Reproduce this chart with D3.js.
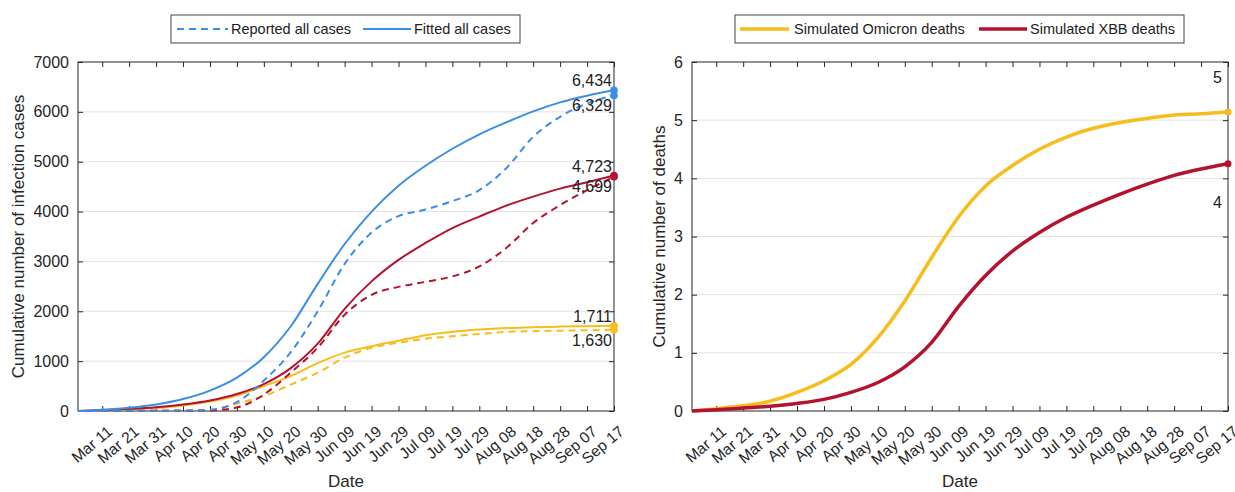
<!DOCTYPE html>
<html>
<head>
<meta charset="utf-8">
<script src="https://cdn.jsdelivr.net/npm/d3@7"></script>
<style>
  html, body { margin: 0; padding: 0; background: #fff; }
  svg { display: block; font-family: "Liberation Sans", Arial, Helvetica, sans-serif; }
</style>
</head>
<body>
<svg id="chart" width="1235" height="492"></svg>
<script>
// ---------------- DATA ----------------
const dates = ["2023-03-02","2023-03-11","2023-03-21","2023-03-31","2023-04-10","2023-04-20",
  "2023-04-30","2023-05-10","2023-05-20","2023-05-30","2023-06-09","2023-06-19","2023-06-29",
  "2023-07-09","2023-07-19","2023-07-29","2023-08-08","2023-08-18","2023-08-28","2023-09-07","2023-09-17"];

const tickDates = ["2023-03-11","2023-03-21","2023-03-31","2023-04-10","2023-04-20","2023-04-30",
  "2023-05-10","2023-05-20","2023-05-30","2023-06-09","2023-06-19","2023-06-29","2023-07-09",
  "2023-07-19","2023-07-29","2023-08-08","2023-08-18","2023-08-28","2023-09-07","2023-09-17"];

// Left panel: cumulative infection cases
const fittedAll      = [0, 25, 65, 130, 240, 410, 670, 1080, 1700, 2550, 3350, 4000, 4520, 4920, 5260, 5550, 5790, 6010, 6190, 6325, 6434];
const reportedAll    = [0, 2, 4, 6, 10, 25, 180, 610, 1180, 2000, 2950, 3580, 3910, 4040, 4210, 4430, 4870, 5500, 5900, 6170, 6329];
const fittedXBB      = [0, 15, 40, 75, 130, 210, 340, 540, 860, 1350, 2050, 2600, 3030, 3370, 3670, 3900, 4120, 4300, 4460, 4590, 4723];
const reportedXBB    = [0, 1, 2, 4, 6, 10, 70, 330, 770, 1270, 1930, 2330, 2490, 2590, 2700, 2900, 3270, 3770, 4130, 4430, 4699];
const fittedOmicron  = [0, 12, 30, 60, 110, 190, 310, 500, 700, 960, 1170, 1300, 1410, 1520, 1590, 1635, 1665, 1680, 1693, 1702, 1711];
const reportedOmicron= [0, 1, 2, 4, 8, 20, 150, 300, 530, 770, 1070, 1270, 1370, 1450, 1500, 1545, 1585, 1600, 1612, 1620, 1630];

// Right panel: cumulative deaths
const deathsOmicron  = [0, 0.04, 0.09, 0.17, 0.32, 0.52, 0.80, 1.26, 1.89, 2.64, 3.34, 3.87, 4.22, 4.50, 4.71, 4.86, 4.96, 5.03, 5.09, 5.11, 5.14];
const deathsXBB      = [0, 0.02, 0.05, 0.08, 0.13, 0.20, 0.32, 0.49, 0.76, 1.18, 1.80, 2.33, 2.75, 3.07, 3.33, 3.54, 3.73, 3.90, 4.05, 4.16, 4.25];

const leftYTicks  = [0, 1000, 2000, 3000, 4000, 5000, 6000, 7000];
const rightYTicks = [0, 1, 2, 3, 4, 5, 6];

const leftLegend  = ["Reported all cases", "Fitted all cases"];
const rightLegend = ["Simulated Omicron deaths", "Simulated XBB deaths"];

// ---------------- STYLE ----------------
const BLUE = "#3b8ee8", RED = "#b4122f", YELLOW = "#f6bd1b";
const AXIS = "#262626", GRID = "#e3e3e3";

const parse = d3.timeParse("%Y-%m-%d");
const D = dates.map(parse);
const T = tickDates.map(parse);
const fmt = d3.timeFormat("%b %d");

const svg = d3.select("#chart");

function panel(opts) {
  const { x0, x1, y0, y1, yMax, yTicks, yLabel, yLabelX } = opts;
  const g = svg.append("g");
  const x = d3.scaleTime().domain([D[0], D[D.length - 1]]).range([x0, x1]);
  const y = d3.scaleLinear().domain([0, yMax]).range([y1, y0]);

  // grid
  g.append("g").selectAll("line").data(yTicks.filter(v => v > 0 && v < yMax)).join("line")
    .attr("x1", x0).attr("x2", x1).attr("y1", d => y(d)).attr("y2", d => y(d))
    .attr("stroke", GRID).attr("stroke-width", 1);

  // axes
  const xb = g.append("g").attr("transform", `translate(0,${y1})`)
    .call(d3.axisBottom(x).tickValues(T).tickFormat(fmt).tickSizeInner(-5).tickSizeOuter(0));
  xb.select(".domain").remove();
  xb.selectAll(".tick line").attr("stroke", AXIS);
  xb.selectAll(".tick text")
    .attr("fill", AXIS).attr("font-size", 15.5).attr("font-family", "Liberation Sans, Arial, sans-serif")
    .attr("text-anchor", "end").attr("dy", "0.35em")
    .attr("transform", "translate(7,18) rotate(-40)")
    .attr("y", 0).attr("x", 0);

  const xt = g.append("g").attr("transform", `translate(0,${y0})`)
    .call(d3.axisTop(x).tickValues(T).tickFormat("").tickSizeInner(-5).tickSizeOuter(0));
  xt.select(".domain").remove();
  xt.selectAll(".tick line").attr("stroke", AXIS);

  const yl = g.append("g").attr("transform", `translate(${x0},0)`)
    .call(d3.axisLeft(y).tickValues(yTicks).tickFormat(d3.format("d")).tickSizeInner(-5).tickSizeOuter(0).tickPadding(9));
  yl.select(".domain").remove();
  yl.selectAll(".tick line").attr("stroke", AXIS);
  yl.selectAll(".tick text").attr("fill", AXIS).attr("font-size", 16).attr("font-family", "Liberation Sans, Arial, sans-serif");

  const yr = g.append("g").attr("transform", `translate(${x1},0)`)
    .call(d3.axisRight(y).tickValues(yTicks).tickFormat("").tickSizeInner(-5).tickSizeOuter(0));
  yr.select(".domain").remove();
  yr.selectAll(".tick line").attr("stroke", AXIS);

  g.append("rect").attr("x", x0).attr("y", y0).attr("width", x1 - x0).attr("height", y1 - y0)
    .attr("fill", "none").attr("stroke", AXIS).attr("stroke-width", 1);

  // titles
  g.append("text").attr("x", (x0 + x1) / 2).attr("y", 487).attr("text-anchor", "middle")
    .attr("font-size", 17).attr("fill", AXIS).text("Date");
  g.append("text").attr("transform", `translate(${yLabelX},${(y0 + y1) / 2}) rotate(-90)`)
    .attr("text-anchor", "middle").attr("font-size", 17).attr("fill", AXIS).text(yLabel);

  return { g, x, y };
}

function drawLine(p, values, color, width, dash) {
  const line = d3.line().x((d, i) => p.x(D[i])).y(d => p.y(d)).curve(d3.curveMonotoneX);
  p.g.append("path").datum(values).attr("d", line).attr("fill", "none")
    .attr("stroke", color).attr("stroke-width", width)
    .attr("stroke-dasharray", dash || null).attr("stroke-linejoin", "round");
}
function endDot(p, values, color, r) {
  const i = values.length - 1;
  p.g.append("circle").attr("cx", p.x(D[i])).attr("cy", p.y(values[i])).attr("r", r).attr("fill", color);
}
function endLabel(p, values, txt, dy, xOff) {
  const i = values.length - 1;
  p.g.append("text").attr("x", p.x(D[i]) + (xOff || -2)).attr("y", p.y(values[i]) + dy)
    .attr("text-anchor", "end").attr("font-size", 16).attr("fill", "#222").text(txt);
}

// ---------------- LEFT PANEL ----------------
const L = panel({ x0: 78, x1: 614, y0: 62, y1: 411, yMax: 7000, yTicks: leftYTicks,
  yLabel: "Cumulative number of infection cases", yLabelX: 24 });
const dash = "7,5";
drawLine(L, reportedOmicron, YELLOW, 2, dash);
drawLine(L, fittedOmicron, YELLOW, 2);
drawLine(L, reportedXBB, RED, 2, dash);
drawLine(L, fittedXBB, RED, 2);
drawLine(L, reportedAll, BLUE, 2, dash);
drawLine(L, fittedAll, BLUE, 2);
[[fittedAll, BLUE], [reportedAll, BLUE], [fittedXBB, RED], [reportedXBB, RED], [fittedOmicron, YELLOW], [reportedOmicron, YELLOW]]
  .forEach(([v, c]) => endDot(L, v, c, 3.8));
const fmtN = d3.format(",");
endLabel(L, fittedAll, fmtN(fittedAll[20]), -4);
endLabel(L, reportedAll, fmtN(reportedAll[20]), 16);
endLabel(L, fittedXBB, fmtN(fittedXBB[20]), -4);
endLabel(L, reportedXBB, fmtN(reportedXBB[20]), 15);
endLabel(L, fittedOmicron, fmtN(fittedOmicron[20]), -4);
endLabel(L, reportedOmicron, fmtN(reportedOmicron[20]), 16);

// ---------------- RIGHT PANEL ----------------
const R = panel({ x0: 692, x1: 1228, y0: 62, y1: 411, yMax: 6, yTicks: rightYTicks,
  yLabel: "Cumulative number of deaths", yLabelX: 665 });
drawLine(R, deathsOmicron, YELLOW, 3.5);
drawLine(R, deathsXBB, RED, 3.5);
endDot(R, deathsOmicron, YELLOW, 3.5);
endDot(R, deathsXBB, RED, 3.5);
endLabel(R, deathsOmicron, String(Math.round(deathsOmicron[20])), -29, -6);
endLabel(R, deathsXBB, String(Math.round(deathsXBB[20])), 44, -6);

// ---------------- LEGENDS ----------------
function legend(bx, bw, items) {
  const g = svg.append("g");
  g.append("rect").attr("x", bx).attr("y", 15).attr("width", bw).attr("height", 28)
    .attr("fill", "#fff").attr("stroke", "#444").attr("stroke-width", 1);
  items.forEach(it => {
    g.append("line").attr("x1", it.lx1).attr("x2", it.lx2).attr("y1", 29).attr("y2", 29)
      .attr("stroke", it.color).attr("stroke-width", it.w).attr("stroke-dasharray", it.dash || null);
    g.append("text").attr("x", it.tx).attr("y", 34).attr("font-size", 14.5).attr("fill", "#222").text(it.label);
  });
}
legend(171, 349, [
  { lx1: 177, lx2: 228, color: BLUE, w: 2, dash: "7,5", tx: 231, label: leftLegend[0] },
  { lx1: 363, lx2: 411, color: BLUE, w: 2, tx: 414, label: leftLegend[1] }
]);
legend(735, 449, [
  { lx1: 740, lx2: 789, color: YELLOW, w: 3.5, tx: 794, label: rightLegend[0] },
  { lx1: 979, lx2: 1027, color: RED, w: 3.5, tx: 1030, label: rightLegend[1] }
]);
</script>
</body>
</html>
